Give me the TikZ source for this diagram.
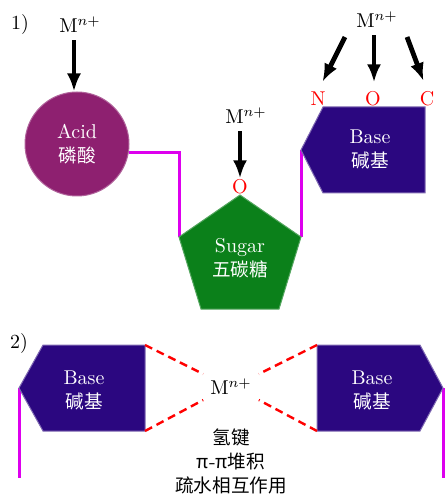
\documentclass[tikz,border=0pt]{standalone}
\usepackage{fontspec}
\newfontfamily\cjk[Scale=0.93]{Noto Sans CJK SC}
\usetikzlibrary{arrows.meta,calc}
\definecolor{acidcol}{HTML}{8E2070}
\definecolor{basecol}{HTML}{2B0780}
\definecolor{sugarcol}{HTML}{0B801A}
\definecolor{bondcol}{HTML}{DD00EE}
\begin{document}
\begin{tikzpicture}[x=0.5pt,y=-0.5pt,
  lbl/.style={inner sep=0pt},
  ion/.style={inner sep=3.33pt},
  atom/.style={text=red, inner sep=0.5pt},
  arr/.style={line width=2.4pt, -{Latex[length=9pt,width=7pt]}},
  bond/.style={bondcol, line width=1.5pt},
  hb/.style={red, line width=1.2pt, dash pattern=on 4pt off 2.5pt},
  intext/.style={text=white, align=center, inner sep=0pt},
  acidshape/.style={circle, fill=acidcol, draw=acidcol!70!white, line width=0.5pt, minimum size=52pt, inner sep=0pt, text=white, align=center},
  baseshape/.style={fill=basecol, draw=basecol!60!white, line width=0.5pt},
  sugarshape/.style={fill=sugarcol, draw=sugarcol!70!white, line width=0.5pt}]

\useasboundingbox (0,0) rectangle (444,496);

% panel labels
\node[lbl] (l1) at (20,25) {1)};
\node[lbl] (l2) at (19,343) {2)};

% ---------- panel 1 ----------
\coordinate (p1) at (240,195);
\coordinate (p2) at (179,237);
\coordinate (p3) at (201,309);
\coordinate (p4) at (279,309);
\coordinate (p5) at (301,237);
\coordinate (b1tip) at (301,150);

\node[acidshape] (acid) at (77,144) {Acid\\\cjk 磷酸};
\draw[bond] (acid.-9) -| (p2);
\draw[bond] (p5) -- (b1tip);

\path[sugarshape] (p1) -- (p2) -- (p3) -- (p4) -- (p5) -- cycle;
\path[baseshape] (b1tip) -- (323,107) -- (425,107) -- (425,193) -- (323,193) -- cycle;

\node[intext] (sugar) at (240,258) {Sugar\\\cjk 五碳糖};
\node[intext] (base1) at (370,149) {Base\\\cjk 碱基};

\node[atom] (o1) at (240,187) {O};
\node[atom] (n) at (318,99) {N};
\node[atom] (o2) at (373,99) {O};
\node[atom] (c) at (427,99) {C};

\node[ion] (m1) at (80,25) {M$^{n+}$};
\node[ion] (m2) at (246,116) {M$^{n+}$};
\node[ion] (m3) at (377,20) {M$^{n+}$};

\coordinate (a1s) at ($(m1.south)+(-6,0)$);
\coordinate (a2s) at ($(m3.south)+(-32,2)$);
\coordinate (a3s) at ($(m3.south)+(-3,0)$);
\coordinate (a4s) at ($(m3.south)+(30,2)$);
\draw[arr] (a1s) -- (a1s |- acid.north);
\draw[arr] (m2.south -| o1) -- (o1.north);
\draw[arr, shorten >=5pt] (a2s) -- (n.north);
\draw[arr, shorten >=4pt] (a3s) -- (a3s |- o2.north);
\draw[arr, shorten >=5pt] (a4s) -- (c.north);

% ---------- panel 2 ----------
\coordinate (b2tip) at (19,388);
\coordinate (b2tr) at (145,345);
\coordinate (b2br) at (145,431);
\coordinate (b3tip) at (443,388);
\coordinate (b3tl) at (317,345);
\coordinate (b3bl) at (317,431);
\coordinate (e2) at (19,478);
\coordinate (e3) at (443,478);

\draw[bond] (b2tip) -- (e2);
\draw[bond] (b3tip) -- (e3);

\path[baseshape] (b2tip) -- (43,345) -- (b2tr) -- (b2br) -- (43,431) -- cycle;
\path[baseshape] (b3tip) -- (420,345) -- (b3tl) -- (b3bl) -- (420,431) -- cycle;

\node[intext] (base2) at (84,390) {Base\\\cjk 碱基};
\node[intext] (base3) at (372,390) {Base\\\cjk 碱基};

\node[ion] (m4) at (231,387) {M$^{n+}$};
\draw[hb] (b2tr) -- ($(m4.west)+(0,-13)$);
\draw[hb] (b2br) -- ($(m4.west)+(0,13)$);
\draw[hb] (b3tl) -- ($(m4.east)+(0,-13)$);
\draw[hb] (b3bl) -- ($(m4.east)+(0,13)$);

\node[lbl, align=center] (notes) at (231,461)
  {{\cjk 氢键}\\{\cjk π}-{\cjk π}{\cjk 堆积}\\{\cjk 疏水相互作用}};
\end{tikzpicture}
\end{document}
